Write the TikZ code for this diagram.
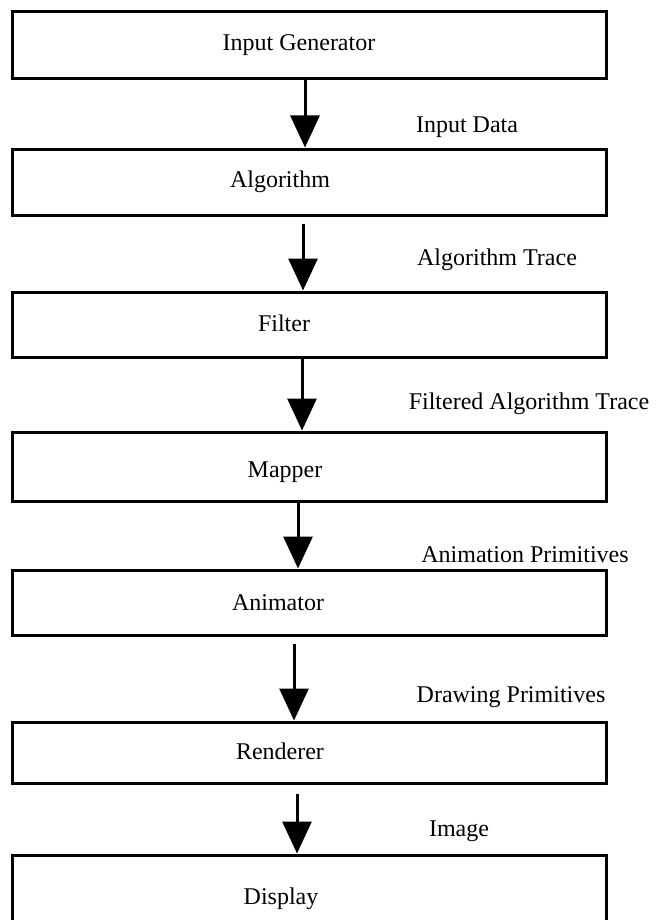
\documentclass[tikz,border=0pt]{standalone}
\usepackage{fontspec}
\setmainfont{Liberation Serif}
\usetikzlibrary{arrows.meta}

\begin{document}
\begin{tikzpicture}[x=0.5pt,y=-0.5pt,
    every node/.style={font=\fontsize{12}{14}\selectfont},
    stage/.style={draw,line width=1.5pt,minimum width=297pt,inner sep=0pt},
    flow/.style={line width=1.5pt,-{Triangle[width=14.5pt,length=16pt]}}]
	\useasboundingbox (0,0) rectangle (658,920);
	\foreach \n/\y/\h/\txt/\s/\ty in {gen/45.5/67/Input Generator/-5/45, alg/182/66/Algorithm/-14.5/182,
	    flt/324.5/65/Filter/-12.5/323, map/466.5/69/Mapper/-12/472, ani/602.5/65/Animator/-15.5/603,
	    ren/752.5/61/Renderer/-14.5/751, dsp/888.5/67/Display/-14/899}
	  {\node[stage,minimum height=\h*0.5pt] (\n) at (309,\y) {};
	   \node (\n-txt) at (309+2*\s,\ty) {\txt};}
	\foreach \a/\b/\s/\g in {gen/alg/-2/0, alg/flt/-3/3.5, flt/map/-3.5/0,
	    map/ani/-5.5/0, ani/ren/-7.5/3.5, ren/dsp/-6/4.5}
	  \draw[flow,shorten <=\g pt] ([xshift=\s pt]\a.south) -- ([xshift=\s pt]\b.north);
	\node (data) at (467,127) {Input Data};
	\node (trace) at (497,260) {Algorithm Trace};
	\node (ftrace) at (529,404) {Filtered Algorithm Trace};
	\node (aprim) at (525,555) {Animation Primitives};
	\node (dprim) at (511,697) {Drawing Primitives};
	\node (image) at (459,831) {Image};
\end{tikzpicture}
\end{document}
